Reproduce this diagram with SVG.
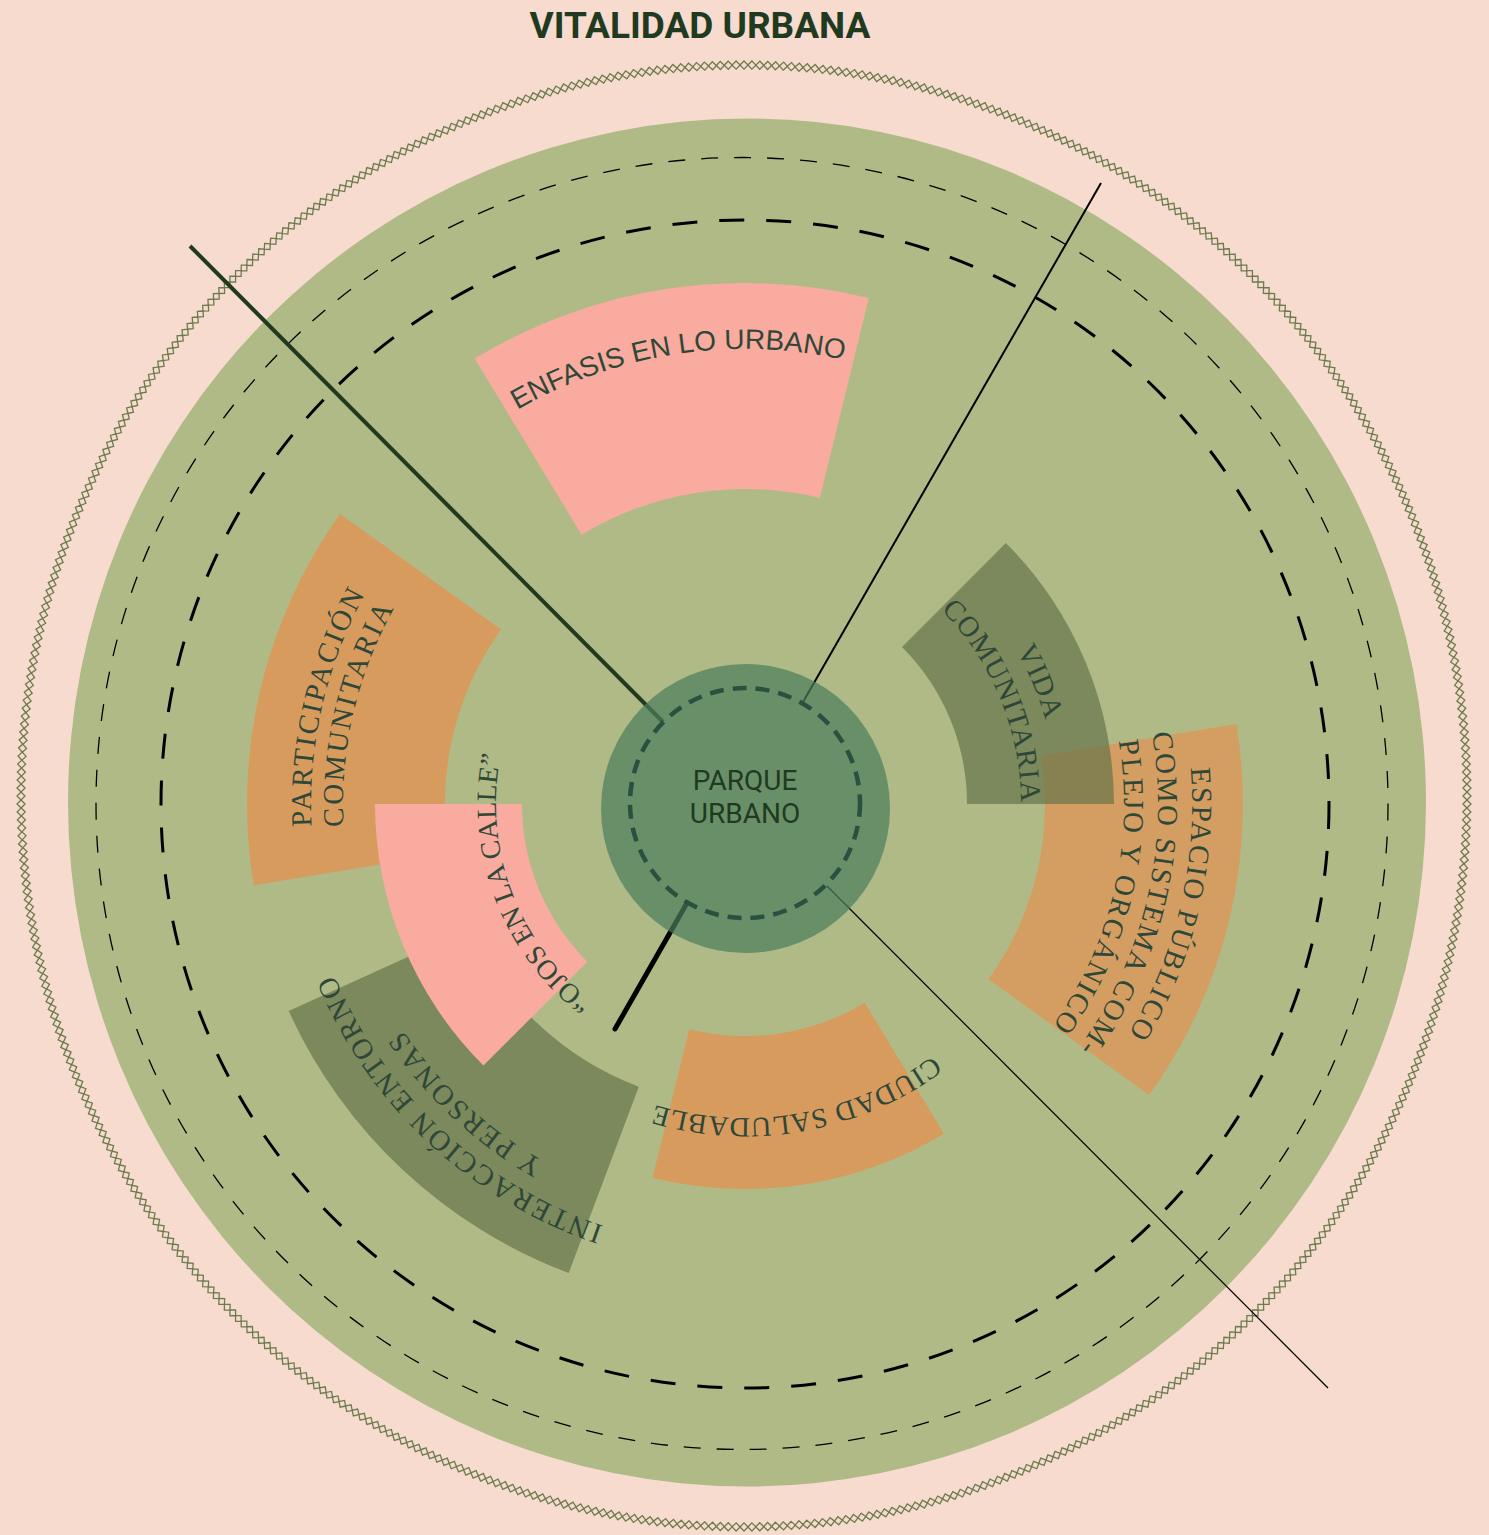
<svg xmlns="http://www.w3.org/2000/svg" width="1489" height="1535" viewBox="0 0 1489 1535">
<style>
.serif{font-family:"Liberation Serif","Times New Roman",serif;font-size:29px;fill:#2E4739}
.sans{font-family:"Liberation Sans",Arial,sans-serif;font-size:28px;fill:#2E4739}
.pink{fill:#F8AB9E}
.orange{fill:#D89B5E}
.olive{fill:#66754A;fill-opacity:0.7}
.zz{fill:none;stroke:#6B7C4C;stroke-width:1.3}
.mid{font-family:Roboto,"Liberation Sans",sans-serif;font-size:28px;fill:#1F3A1F}
</style>
<defs>
<path id="t-enf" d="M298.7,715.2 A455,455 0 0 1 1143.9,585.1"/>
<path id="t-vida1" d="M704.3,494.7 A312,312 0 0 1 934.9,1051.5"/>
<path id="t-vida2" d="M709.0,530.4 A276,276 0 0 1 913.0,1023.0"/>
<path id="t-esp1" d="M956.6,410.2 A447,447 0 0 1 758.6,1250.8"/>
<path id="t-esp2" d="M940.5,440.2 A413,413 0 0 1 757.6,1216.8"/>
<path id="t-esp3" d="M924.4,470.1 A379,379 0 0 1 756.6,1182.8"/>
<path id="t-par1" d="M540.6,1186.8 A434,434 0 0 1 730.6,370.2"/>
<path id="t-par2" d="M555.7,1158.6 A402,402 0 0 1 731.7,402.2"/>
<path id="t-ojos" d="M768.9,1051.9 A249,249 0 0 1 600.4,601.3"/>
<path id="t-int1" d="M980.1,1181.8 A445,445 0 0 1 352.5,594.4"/>
<path id="t-int2" d="M961.6,1152.1 A410,410 0 0 1 383.3,610.9"/>
<path id="t-ciu" d="M1057.8,831.4 A314,314 0 0 1 460.4,936.7"/>
<g id="z0"><path class="zz" d="M-4,-723 L0,-727 L4,-723 L0,-719 Z"/></g>
<g id="z1"><use href="#z0"/><use href="#z0" transform="rotate(0.625)"/></g>
<g id="z2"><use href="#z1"/><use href="#z1" transform="rotate(1.25)"/></g>
<g id="z3"><use href="#z2"/><use href="#z2" transform="rotate(2.5)"/></g>
<g id="z4"><use href="#z3"/><use href="#z3" transform="rotate(5)"/></g>
<g id="z5"><use href="#z4"/><use href="#z4" transform="rotate(10)"/></g>
<g id="z6"><use href="#z5"/><use href="#z5" transform="rotate(20)"/></g>
<g id="z7"><use href="#z6"/><use href="#z6" transform="rotate(40)"/><use href="#z6" transform="rotate(80)"/><use href="#z6" transform="rotate(120)"/><use href="#z6" transform="rotate(160)"/><use href="#z6" transform="rotate(200)"/><use href="#z6" transform="rotate(240)"/><use href="#z6" transform="rotate(280)"/><use href="#z6" transform="rotate(320)"/></g>
</defs>
<rect width="1489" height="1535" fill="#F7DBCF"/>
<text x="700" y="38" text-anchor="middle" style="font-family:Roboto,'Liberation Sans',sans-serif;font-weight:bold;font-size:37px;fill:#1F3A1F">VITALIDAD URBANA</text>
<g id="ring">
<g transform="translate(744,796) scale(1,1.011)"><use href="#z7"/></g>
<ellipse cx="747" cy="802.5" rx="679" ry="684" fill="#B0BA86"/>
<circle cx="742" cy="803.5" r="646" fill="none" stroke="#000" stroke-width="1.3" stroke-dasharray="17 16"/>
<circle cx="745" cy="804" r="584" fill="none" stroke="#000" stroke-width="3" stroke-dasharray="25 22"/>
</g>
<g id="enfasis">
<path class="pink" d="M474.7,358.6 A521,521 0 0 1 868.8,298.0 L819.9,498.0 A315,315 0 0 0 581.6,534.7 Z"/>
<text class="sans"><textPath href="#t-enf" startOffset="50%" text-anchor="middle">ENFASIS EN LO URBANO</textPath></text>
</g>
<g id="participacion">
<path class="orange" d="M253.7,885.3 A498,498 0 0 1 340.1,514.1 L501.1,629.4 A300,300 0 0 0 449.0,853.0 Z"/>
<text class="serif" letter-spacing="2.3"><textPath href="#t-par1" startOffset="50%" text-anchor="middle">PARTICIPACIÓN</textPath></text>
<text class="serif" letter-spacing="2.3"><textPath href="#t-par2" startOffset="50%" text-anchor="middle">COMUNITARIA</textPath></text>
</g>
<g id="interaccion">
<path class="olive" d="M568.7,1273.0 A501,501 0 0 1 288.7,1011.0 L470.0,928.8 A302,302 0 0 0 638.8,1086.7 Z"/>
<text class="serif" letter-spacing="2.1"><textPath href="#t-int1" startOffset="50%" text-anchor="middle">INTERACCIÓN ENTORNO</textPath></text>
<text class="serif" letter-spacing="2.1"><textPath href="#t-int2" startOffset="50%" text-anchor="middle">Y PERSONAS</textPath></text>
</g>
<g id="ciudad">
<path class="orange" d="M943.9,1133.7 A385,385 0 0 1 652.5,1177.7 L689.3,1029.2 A232,232 0 0 0 864.8,1002.7 Z"/>
<text class="serif" font-size="28" letter-spacing="0.7" style="font-size:28px"><textPath href="#t-ciu" startOffset="50%" text-anchor="middle">CIUDAD SALUDABLE</textPath></text>
</g>
<g id="espacio">
<path class="orange" fill-opacity="0.9" d="M1236.5,724.0 A498,498 0 0 1 1149.2,1094.9 L988.5,979.3 A300,300 0 0 0 1041.1,755.8 Z"/>
<text class="serif" letter-spacing="2"><textPath href="#t-esp1" startOffset="50%" text-anchor="middle">ESPACIO PÚBLICO</textPath></text>
<text class="serif" letter-spacing="2"><textPath href="#t-esp2" startOffset="50%" text-anchor="middle">COMO SISTEMA COM-</textPath></text>
<text class="serif" letter-spacing="2"><textPath href="#t-esp3" startOffset="50%" text-anchor="middle">PLEJO Y ORGÁNICO</textPath></text>
</g>
<g id="vida">
<path class="olive" d="M1005.9,543.1 A369,369 0 0 1 1114,804 L967,804 A222,222 0 0 0 902,647 Z"/>
<text class="serif" letter-spacing="1"><textPath href="#t-vida1" startOffset="50%" text-anchor="middle">VIDA</textPath></text>
<text class="serif" letter-spacing="1"><textPath href="#t-vida2" startOffset="50%" text-anchor="middle">COMUNITARIA</textPath></text>
</g>
<g id="ojos">
<path class="pink" d="M483.4,1065.6 A370,370 0 0 1 375,804 L522,804 A223,223 0 0 0 587.3,961.7 Z"/>
<text class="serif" style="font-size:28px"><textPath href="#t-ojos" startOffset="50%" text-anchor="middle">“OJOS EN LA CALLE”</textPath></text>
</g>
<g id="connectors" fill="none">
<line x1="190" y1="246" x2="663" y2="722" stroke="#1F3A1F" stroke-width="4"/>
<line x1="1101" y1="183" x2="803" y2="702" stroke="#000" stroke-width="2"/>
<line x1="827" y1="886" x2="1328" y2="1388" stroke="#000" stroke-width="1.2"/>
<line x1="687" y1="903" x2="615" y2="1029" stroke="#000" stroke-width="5" stroke-linecap="round"/>
</g>
<g id="parque">
<circle cx="745.5" cy="808.5" r="144.5" fill="#4C7E5D" fill-opacity="0.7"/>
<circle cx="745" cy="803" r="115" fill="none" stroke="#2A5040" stroke-width="4.5" stroke-dasharray="14 9"/>
<text class="mid" x="745" y="790" text-anchor="middle">PARQUE</text>
<text class="mid" x="745" y="823" text-anchor="middle">URBANO</text>
</g>
</svg>
